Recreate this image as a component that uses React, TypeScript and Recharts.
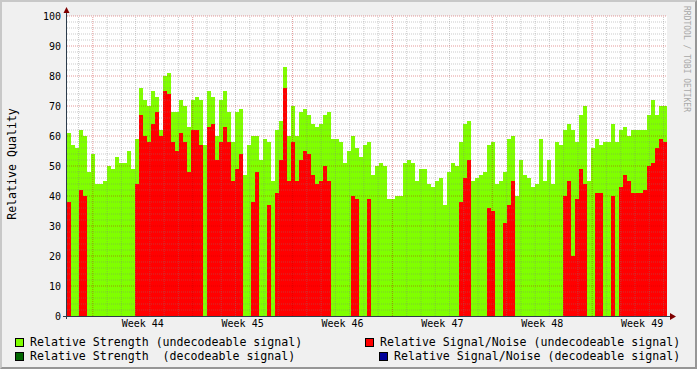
import { ComposedChart, Area, XAxis, YAxis, ReferenceLine, CartesianGrid } from 'recharts';

// one sample every ~6.7h, 150 samples across the 6 weeks shown
const strength = [
    61, 57, 56, 62, 60, 48, 54, 44, 44, 45,
    50, 49, 53, 51, 51, 55, 49, 59, 76, 72,
    70, 75, 73, 62, 80, 81, 68, 68, 72, 70,
    63, 72, 73, 72, 57, 75, 73, 60, 72, 75,
    68, 58, 68, 69, 47, 57, 60, 60, 52, 59,
    58, 45, 62, 65, 83, 60, 70, 60, 68, 69,
    67, 64, 63, 64, 67, 68, 59, 59, 58, 51,
    55, 60, 56, 53, 57, 58, 47, 50, 51, 50,
    39, 39, 40, 40, 51, 52, 51, 45, 49, 49,
    44, 43, 45, 46, 37, 48, 51, 50, 58, 64,
    65, 45, 46, 47, 48, 57, 58, 44, 45, 48,
    59, 60, 40, 52, 47, 46, 43, 44, 59, 45,
    52, 44, 58, 57, 62, 64, 62, 58, 67, 70,
    45, 56, 59, 57, 58, 58, 64, 58, 62, 63,
    60, 62, 62, 62, 62, 67, 72, 67, 70, 70,
];

const signalNoise = [
    38, 0, 0, 42, 40, 0, 0, 0, 0, 0,
    0, 0, 0, 0, 0, 0, 0, 44, 67, 60,
    58, 64, 68, 60, 75, 74, 58, 55, 61, 58,
    48, 62, 62, 57, 0, 63, 64, 52, 58, 63,
    58, 45, 49, 54, 0, 0, 38, 48, 0, 0,
    37, 0, 41, 52, 76, 45, 58, 45, 52, 55,
    54, 47, 44, 45, 50, 45, 0, 0, 0, 0,
    0, 40, 39, 0, 0, 39, 0, 0, 0, 0,
    0, 0, 0, 0, 0, 0, 0, 0, 0, 0,
    0, 0, 0, 0, 0, 0, 0, 0, 38, 46,
    52, 0, 0, 0, 0, 36, 35, 0, 0, 31,
    37, 45, 0, 0, 0, 0, 0, 0, 0, 0,
    0, 0, 0, 0, 40, 45, 20, 39, 49, 44,
    0, 0, 41, 41, 0, 0, 40, 0, 43, 47,
    45, 41, 41, 41, 42, 50, 51, 56, 59, 58,
];

const weekLabels = ['Week 44', 'Week 45', 'Week 46', 'Week 47', 'Week 48', 'Week 49'];
const yTicks = [0, 10, 20, 30, 40, 50, 60, 70, 80, 90, 100];

const FIRST_WEEK = 6.45; // x position of the first week boundary, in samples
const WEEK = 24.97; // samples per week
const mono = '"DejaVu Sans Mono", monospace';

const weekLines = weekLabels.map((_, i) => FIRST_WEEK + i * WEEK);
const labelTicks = weekLines.map((x) => x + WEEK / 2);
const dayLines: number[] = [];
for (let d = -1; d < 42; d++) {
    const x = FIRST_WEEK + (d * WEEK) / 7;
    if (x > 0 && x < 150 && d % 7 !== 0) dayLines.push(x);
}
const minorY: number[] = [];
for (let v = 2; v < 100; v += 2) if (v % 10 !== 0) minorY.push(v);
const majorY = yTicks.filter((v) => v > 0);

const data = strength.map((s, i) => ({ t: i, strength: s, snr: signalNoise[i] }));
data.push({ t: strength.length, strength: strength[strength.length - 1], snr: signalNoise[signalNoise.length - 1] });

const legend = [
    { color: '#80ff00', text: 'Relative Strength (undecodeable signal)', x: 15, y: 337 },
    { color: '#ff0000', text: 'Relative Signal/Noise (undecodeable signal)', x: 365, y: 337 },
    { color: '#006600', text: 'Relative Strength  (decodeable signal)', x: 15, y: 351 },
    { color: '#000099', text: 'Relative Signal/Noise (decodeable signal)', x: 379, y: 351 },
];

const minorStroke = 'rgba(128,128,128,0.4)';
const majorStroke = 'rgba(190,0,0,0.4)';

export default function App() {
    return (
        <div style={{ position: 'absolute', left: 0, top: 0, width: 697, height: 369, background: '#f0f0f0', fontFamily: mono }}>
            <ComposedChart width={697} height={369} data={data} margin={{ top: 16, right: 30, bottom: 0, left: 0 }}>
                <CartesianGrid fill="#ffffff" horizontal={false} vertical={false} />
                <XAxis
                    dataKey="t"
                    type="number"
                    domain={[0, 150]}
                    ticks={labelTicks}
                    interval={0}
                    tickFormatter={(_v, i) => weekLabels[i]}
                    axisLine={false}
                    tickLine={false}
                    tickSize={0}
                    tickMargin={4}
                    height={53}
                    tick={{ fontSize: 10, fill: '#000', fontFamily: mono }}
                />
                <YAxis
                    domain={[0, 100]}
                    ticks={yTicks}
                    interval={0}
                    axisLine={false}
                    tickLine={false}
                    tickSize={0}
                    tickMargin={6}
                    width={67}
                    tick={{ fontSize: 10, fill: '#000', fontFamily: mono }}
                />
                <Area type="stepAfter" dataKey="strength" fill="#80ff00" fillOpacity={1} stroke="none" isAnimationActive={false} />
                <Area type="stepAfter" dataKey="snr" fill="#ff0000" fillOpacity={1} stroke="none" isAnimationActive={false} />
                {minorY.map((v) => (
                    <ReferenceLine key={'my' + v} y={v} stroke={minorStroke} strokeDasharray="1 1" />
                ))}
                {dayLines.map((x) => (
                    <ReferenceLine key={'mx' + x} x={x} stroke={minorStroke} strokeDasharray="1 1" />
                ))}
                {majorY.map((v) => (
                    <ReferenceLine key={'My' + v} y={v} stroke={majorStroke} strokeDasharray="1 1" />
                ))}
                {weekLines.map((x) => (
                    <ReferenceLine key={'Mx' + x} x={x} stroke={majorStroke} strokeDasharray="1 1" />
                ))}
            </ComposedChart>

            {/* axes with rrdtool style arrows */}
            <svg width={697} height={369} style={{ position: 'absolute', left: 0, top: 0, pointerEvents: 'none' }}>
                <line x1={63} y1={316.5} x2={671} y2={316.5} stroke="#2c3c4c" strokeWidth={1} />
                <line x1={66.5} y1={319} x2={66.5} y2={12} stroke="#2c3c4c" strokeWidth={1} />
                <polygon points="670,313 676,316.5 670,320" fill="#7f0000" />
                <polygon points="63.5,13 66.5,7 69.5,13" fill="#7f0000" />
            </svg>

            <div
                style={{
                    position: 'absolute',
                    left: 12,
                    top: 164,
                    fontSize: 11.6,
                    whiteSpace: 'pre',
                    transform: 'translate(-50%, -50%) rotate(-90deg)',
                }}
            >
                Relative Quality
            </div>
            <div
                style={{
                    position: 'absolute',
                    left: 686,
                    top: 59,
                    fontSize: 8,
                    color: '#a8a8a8',
                    whiteSpace: 'pre',
                    transform: 'translate(-50%, -50%) rotate(90deg)',
                }}
            >
                RRDTOOL / TOBI OETIKER
            </div>

            {legend.map((l) => (
                <div key={l.text} style={{ position: 'absolute', left: l.x, top: l.y - 1, height: 12, display: 'flex', alignItems: 'center' }}>
                    <span style={{ width: 7, height: 7, background: l.color, border: '1px solid #000', display: 'inline-block' }} />
                    <span style={{ marginLeft: 6, fontSize: 11.6, whiteSpace: 'pre', color: '#000' }}>{l.text}</span>
                </div>
            ))}

            <div
                style={{
                    position: 'absolute',
                    left: 0,
                    top: 0,
                    width: 697,
                    height: 369,
                    boxSizing: 'border-box',
                    borderTop: '2px solid #c8c8c8',
                    borderLeft: '2px solid #c8c8c8',
                    borderBottom: '2px solid #969696',
                    borderRight: '2px solid #969696',
                    pointerEvents: 'none',
                }}
            />
        </div>
    );
}
